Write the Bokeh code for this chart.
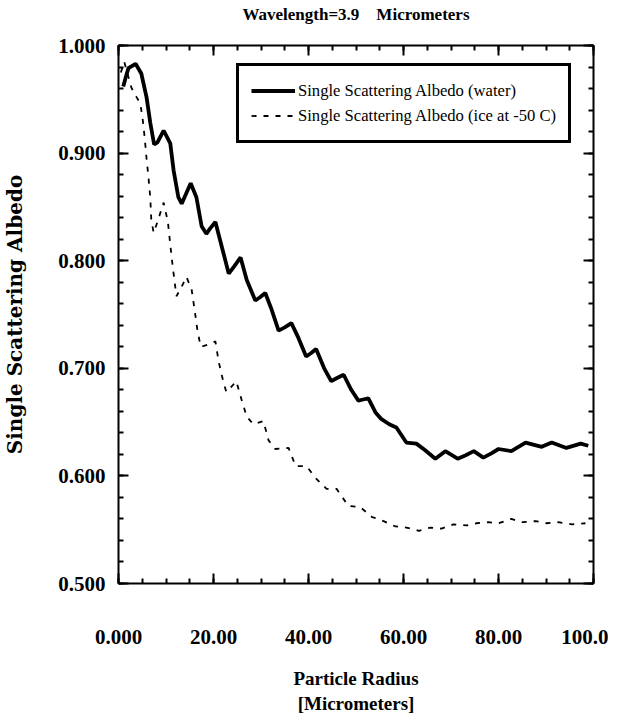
from bokeh.plotting import figure
from bokeh.models import (LinearAxis, FixedTicker, Legend, LegendItem,
                          CustomJSTickFormatter)
from bokeh.embed import file_html
from bokeh.resources import INLINE

# ---- data ----
water_x = [1.0, 1.5, 2.1, 3.6, 4.8, 5.9, 6.7, 7.5, 8.2, 9.5, 10.9, 11.6, 12.6, 13.3,
           14.2, 15.2, 16.4, 17.5, 18.5, 19.3, 20.4, 22.1, 23.2, 24.4, 25.7, 27.0,
           28.8, 29.8, 30.9, 32.2, 33.7, 35.0, 36.4, 37.9, 39.5, 40.5, 41.6, 43.3,
           44.8, 46.0, 47.4, 49.0, 50.5, 51.5, 52.6, 54.1, 55.3, 57.0, 58.5, 60.6,
           62.7, 64.5, 66.7, 68.8, 71.4, 73.0, 74.8, 76.8, 78.5, 80.0, 82.7, 85.7,
           89.1, 91.2, 94.3, 97.3, 98.9]
water_y = [0.962, 0.970, 0.979, 0.983, 0.974, 0.952, 0.928, 0.908, 0.910, 0.921,
           0.909, 0.884, 0.859, 0.853, 0.862, 0.872, 0.859, 0.832, 0.825, 0.830,
           0.836, 0.807, 0.788, 0.795, 0.803, 0.782, 0.763, 0.766, 0.770, 0.755,
           0.735, 0.738, 0.742, 0.728, 0.711, 0.714, 0.718, 0.700, 0.688, 0.691,
           0.694, 0.680, 0.670, 0.671, 0.672, 0.659, 0.653, 0.648, 0.645, 0.631,
           0.630, 0.624, 0.616, 0.623, 0.616, 0.619, 0.623, 0.617, 0.621, 0.625,
           0.623, 0.631, 0.627, 0.631, 0.626, 0.630, 0.628]

ice_x = [0.5, 1.2, 2.7, 3.8, 4.6, 5.1, 5.5, 5.9, 6.3, 6.7, 6.9, 7.4, 8.2, 9.5, 10.4,
         10.9, 11.4, 12.2, 13.2, 14.3, 15.4, 16.0, 16.6, 17.3, 18.8, 20.4, 21.1,
         22.1, 22.7, 23.8, 24.8, 25.9, 27.0, 28.4, 30.5, 31.6, 33.0, 35.8, 37.3,
         39.6, 41.5, 43.8, 45.9, 48.4, 50.9, 53.3, 55.8, 58.3, 60.6, 63.2, 65.7,
         68.0, 70.5, 73.3, 75.4, 77.9, 80.0, 82.7, 85.0, 87.8, 90.0, 92.6, 95.5, 98.3]
ice_y = [0.975, 0.985, 0.961, 0.952, 0.946, 0.931, 0.915, 0.895, 0.878, 0.858,
         0.838, 0.826, 0.836, 0.854, 0.836, 0.815, 0.795, 0.767, 0.775, 0.785,
         0.773, 0.755, 0.736, 0.720, 0.722, 0.725, 0.706, 0.687, 0.678, 0.683,
         0.688, 0.671, 0.655, 0.648, 0.651, 0.633, 0.625, 0.626, 0.609, 0.609,
         0.598, 0.588, 0.588, 0.572, 0.571, 0.562, 0.558, 0.553, 0.552, 0.549,
         0.552, 0.551, 0.555, 0.554, 0.556, 0.557, 0.556, 0.560, 0.557, 0.558,
         0.556, 0.557, 0.555, 0.556]

x_ticks = [0, 20, 40, 60, 80, 100]
x_tick_labels = ["0.000", "20.00", "40.00", "60.00", "80.00", "100.0"]
y_ticks = [0.5, 0.6, 0.7, 0.8, 0.9, 1.0]
y_tick_labels = ["0.500", "0.600", "0.700", "0.800", "0.900", "1.000"]
x_minor = [v * 5 for v in range(0, 21)]
y_minor = [round(0.5 + v * 0.02, 2) for v in range(0, 26)]

title_text = "Wavelength=3.9\u00a0\u00a0\u00a0\u00a0Micrometers"
x_label = "Particle Radius\n[Micrometers]"
y_label = "Single Scattering Albedo"
series_names = ["Single Scattering Albedo (water)",
                "Single Scattering Albedo (ice at -50 C)"]

SERIF = "DejaVu Serif"
LSERIF = "Liberation Serif"

p = figure(width=608, height=716, x_range=(0, 100), y_range=(0.5, 1.0),
           output_backend="svg", toolbar_location=None,
           min_border_left=112, min_border_right=15, min_border_top=45,
           min_border_bottom=131)
p.xgrid.visible = False
p.ygrid.visible = False
p.outline_line_color = None
p.background_fill_color = "white"
p.border_fill_color = "white"

xticker = FixedTicker(ticks=x_ticks, minor_ticks=x_minor)
yticker = FixedTicker(ticks=y_ticks, minor_ticks=y_minor)


def style_axis(ax):
    ax.axis_line_width = 2
    ax.axis_line_color = "black"
    ax.major_tick_in = 10
    ax.major_tick_out = 0
    ax.minor_tick_in = 5
    ax.minor_tick_out = 0
    ax.major_tick_line_width = 2
    ax.minor_tick_line_width = 2
    ax.major_tick_line_color = "black"
    ax.minor_tick_line_color = "black"
    ax.major_label_text_color = "black"
    ax.axis_label_text_color = "black"


bx = p.xaxis[0]
bx.ticker = xticker
bx.major_label_overrides = dict(zip(x_ticks, x_tick_labels))
style_axis(bx)
bx.major_label_standoff = 46
bx.major_label_text_font = LSERIF
bx.major_label_text_font_style = "bold"
bx.major_label_text_font_size = "21px"
bx.axis_label = x_label
bx.axis_label_text_font = LSERIF
bx.axis_label_text_font_style = "bold"
bx.axis_label_text_font_size = "19px"
bx.axis_label_standoff = 21

ly = p.yaxis[0]
ly.ticker = yticker
ly.major_label_overrides = dict(zip(y_ticks, y_tick_labels))
style_axis(ly)
ly.major_label_standoff = 13
ly.major_label_text_font = LSERIF
ly.major_label_text_font_style = "bold"
ly.major_label_text_font_size = "21px"
ly.axis_label = y_label
ly.axis_label_text_font = SERIF
ly.axis_label_text_font_style = "bold"
ly.axis_label_text_font_size = "20px"
ly.axis_label_standoff = 28

blank = CustomJSTickFormatter(code="return ''")
# top frame axis; it also carries the chart title as its label
tx = LinearAxis(ticker=xticker, formatter=blank)
style_axis(tx)
tx.major_label_standoff = 0
tx.major_label_text_font_size = "1px"
tx.axis_label = title_text
tx.axis_label_text_font = "Liberation Sans Narrow"
tx.axis_label_text_font_style = "bold"
tx.axis_label_text_font_size = "17px"
tx.axis_label_standoff = 22
p.add_layout(tx, "above")
ry = LinearAxis(ticker=yticker, formatter=blank)
style_axis(ry)
ry.major_label_standoff = 0
ry.major_label_text_font_size = "1px"
p.add_layout(ry, "right")

r_water = p.line(water_x, water_y, line_color="black", line_width=3.8)
r_ice = p.line(ice_x, ice_y, line_color="black", line_width=1.8, line_dash="5 7")

legend = Legend(items=[LegendItem(label=series_names[0], renderers=[r_water]),
                       LegendItem(label=series_names[1], renderers=[r_ice])],
                location=(118, 440))
legend.border_line_color = "black"
legend.border_line_alpha = 1
legend.border_line_width = 3
legend.padding = 12
legend.spacing = 0
legend.margin = 0
legend.glyph_width = 44
legend.label_standoff = 3
legend.label_text_font = LSERIF
legend.label_text_font_size = "16.6px"
legend.label_text_color = "black"
legend.label_height = 25
legend.glyph_height = 25
legend.background_fill_alpha = 1
p.add_layout(legend, "center")

open("out.html", "w").write(file_html(p, INLINE))
